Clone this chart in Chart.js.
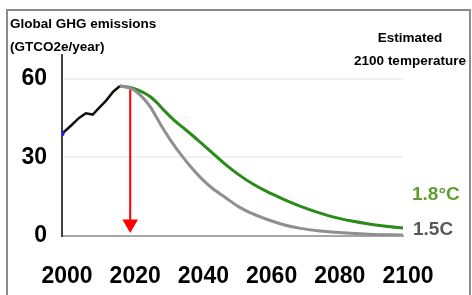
<!DOCTYPE html>
<html>
<head>
<meta charset="utf-8">
<script src="https://cdn.jsdelivr.net/npm/chart.js@4.4.0/dist/chart.umd.min.js"></script>
<style>
    body { margin: 0; background: #fff; overflow: hidden; }
    .wrap { position: relative; width: 472px; height: 295px; }
    .frame {
        position: absolute; left: 6px; top: 9px; width: 465px; height: 300px;
        box-sizing: border-box; border: 2px solid #8c8c8c; border-bottom: none;
        pointer-events: none;
    }
</style>
</head>
<body>
<div class="wrap">
    <canvas id="ghgChart" width="472" height="295"></canvas>
    <div class="frame"></div>
</div>
<script>
// historic emissions (black)
const histYears = [2000, 2003, 2005, 2007, 2009, 2011, 2013, 2015, 2017];
const histValues = [39, 42.5, 45, 46.8, 46.3, 49, 51.7, 55, 57.2];

// 1.8°C pathway (green)
const years18 = [2017, 2020, 2022, 2024, 2026, 2028, 2030, 2033, 2036, 2040, 2044, 2048, 2052, 2056, 2060, 2065, 2070, 2075, 2080, 2085, 2090, 2095, 2100];
const values18 = [57.2, 56.6, 55.8, 54.6, 53, 50.6, 47.8, 44, 40.8, 36.4, 31.8, 27.2, 23.2, 19.8, 17, 14, 11.3, 9, 7.1, 5.7, 4.6, 3.7, 3];

// 1.5°C pathway (grey)
const years15 = [2017, 2020, 2022, 2024, 2026, 2028, 2030, 2032, 2035, 2038, 2041, 2044, 2048, 2052, 2056, 2060, 2065, 2070, 2075, 2080, 2090, 2100];
const values15 = [57.2, 56.4, 54.8, 52.3, 49, 44.6, 40.2, 36.2, 30.8, 26, 21.8, 18.3, 14.6, 11, 8.4, 6.4, 4.3, 2.9, 2, 1.4, 0.7, 0.4];

// red arrow marking today
const arrowYears = [2020, 2020];
const arrowValues = [56.5, 4.6];

const yTicks = [0, 30, 60];
const xTicks = [2000, 2020, 2040, 2060, 2080, 2100];

const toPoints = (xs, ys) => xs.map((x, i) => ({ x: x, y: ys[i] }));

const labelsPlugin = {
    id: "labels",
    afterDraw(chart) {
        const ctx = chart.ctx;
        ctx.save();
        ctx.textBaseline = "middle";
        ctx.fillStyle = "#000";
        ctx.font = "bold 13.5px 'Liberation Sans'";
        ctx.textAlign = "left";
        ctx.fillText("Global GHG emissions", 10, 24);
        ctx.fillText("(GTCO2e/year)", 10, 47);
        ctx.textAlign = "center";
        ctx.fillText("Estimated", 410, 38);
        ctx.fillText("2100 temperature", 410, 61);
        ctx.textAlign = "left";
        ctx.font = "bold 19px 'Liberation Sans'";
        ctx.fillStyle = "#5f9e2f";
        ctx.fillText("1.8°C", 412, 195);
        ctx.fillStyle = "#595959";
        ctx.fillText("1.5C", 413, 230);
        ctx.restore();
    }
};

new Chart(document.getElementById("ghgChart"), {
    type: "line",
    data: {
        datasets: [
            {
                label: "1.5C",
                data: toPoints(years15, values15),
                borderColor: "#8f8f8f",
                borderWidth: 3,
                pointRadius: 0,
                cubicInterpolationMode: "monotone",
            },
            {
                label: "1.8°C",
                data: toPoints(years18, values18),
                borderColor: "#2a8a1a",
                borderWidth: 3,
                pointRadius: 0,
                cubicInterpolationMode: "monotone",
            },
            {
                label: "Historic",
                data: toPoints(histYears, histValues),
                borderColor: "#111",
                borderWidth: 2.5,
                pointRadius: (c) => (c.dataIndex === 0 ? 2.5 : 0),
                pointBackgroundColor: "#1a1aff",
                pointBorderWidth: 0,
                tension: 0,
            },
            {
                label: "Now",
                data: toPoints(arrowYears, arrowValues),
                borderColor: "#ff0000",
                backgroundColor: "#ff0000",
                borderWidth: 2,
                pointStyle: "triangle",
                rotation: 180,
                pointRadius: [0, 9],
                pointBorderWidth: 0,
            },
        ],
    },
    options: {
        responsive: false,
        animation: false,
        devicePixelRatio: 1,
        layout: { padding: { top: 55, right: 69, left: 0, bottom: 0 } },
        plugins: { legend: { display: false }, tooltip: { enabled: false } },
        scales: {
            x: {
                type: "linear",
                min: 2000,
                max: 2100,
                afterFit: (s) => { s.height = 59; },
                afterBuildTicks: (s) => { s.ticks = xTicks.map((v) => ({ value: v })); },
                border: { color: "#a6a6a6", width: 2 },
                grid: { display: false, drawTicks: false },
                ticks: {
                    padding: 27,
                    labelOffset: 5,
                    color: "#000",
                    callback: (v) => String(v),
                    font: { family: "Liberation Sans", size: 23, weight: "bold" },
                },
            },
            y: {
                min: 0,
                max: 69,
                afterFit: (s) => { s.width = 62; },
                afterBuildTicks: (s) => { s.ticks = yTicks.map((v) => ({ value: v })); },
                border: { color: "#404040", width: 2 },
                grid: {
                    drawTicks: false,
                    lineWidth: 2,
                    color: (c) => (c.tick && c.tick.value === 0 ? "rgba(0,0,0,0)" : "rgba(0,0,0,0.06)"),
                },
                ticks: {
                    padding: 15,
                    color: "#000",
                    font: { family: "Liberation Sans", size: 23, weight: "bold" },
                },
            },
        },
    },
    plugins: [labelsPlugin],
});
</script>
</body>
</html>
